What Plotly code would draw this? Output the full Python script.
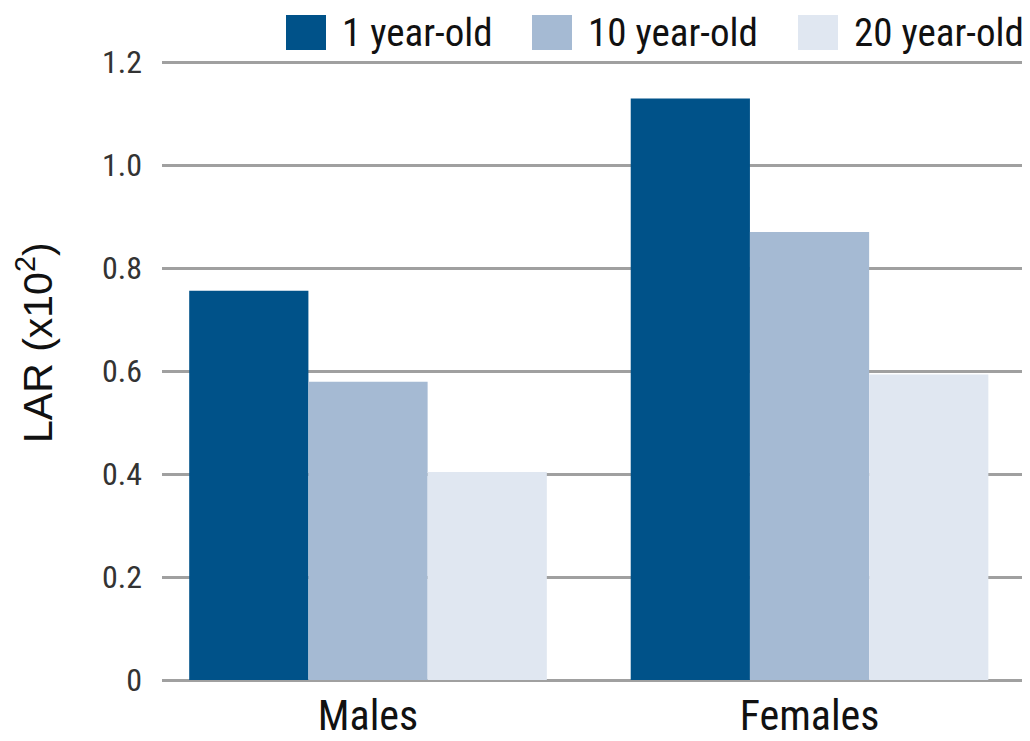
import plotly.graph_objects as go

categories = ["Males", "Females"]
series_names = ["1 year-old", "10 year-old", "20 year-old"]
values_1yr = [0.756, 1.129]
values_10yr = [0.579, 0.870]
values_20yr = [0.404, 0.593]
series_values = [values_1yr, values_10yr, values_20yr]
colors = ["#005289", "#a5bad3", "#e0e7f1"]
y_tickvals = [0, 0.2, 0.4, 0.6, 0.8, 1.0, 1.2]
y_ticktext = ["0", "0.2", "0.4", "0.6", "0.8", "1.0", "1.2"]

FONT = "Roboto Condensed, DejaVu Sans Condensed, sans-serif"

fig = go.Figure()
for name, vals, col in zip(series_names, series_values, colors):
    fig.add_trace(go.Bar(x=categories, y=vals, name=name, marker=dict(color=col, line=dict(width=0)),
                         showlegend=False))

# browser body margin offset (8px) compensation
OFF = 8
W, H = 1030 - OFF, 741 - OFF
L, R, T, B = 162 - OFF, 5, 62 - OFF - 1, 61
pw, ph = W - L - R, H - T - B

def px_to_paper_x(px):
    return (px - OFF - L) / pw

def px_to_paper_y(py):
    return (H - B - (py - OFF)) / ph

legend_x = [286, 532, 798]
shapes = []
annotations = []
for lx, name, col in zip(legend_x, series_names, colors):
    shapes.append(dict(type="rect", xref="paper", yref="paper",
                       x0=px_to_paper_x(lx), x1=px_to_paper_x(lx + 40),
                       y0=px_to_paper_y(50), y1=px_to_paper_y(15),
                       fillcolor=col, line=dict(width=0)))
    annotations.append(dict(text=name, xref="paper", yref="paper",
                            x=px_to_paper_x(lx + 54), y=px_to_paper_y(33),
                            xanchor="left", yanchor="middle", showarrow=False,
                            font=dict(family=FONT, size=39, color="#111")))

annotations.append(dict(text="LAR (x10<sup>2</sup>)", xref="paper", yref="paper",
                        x=px_to_paper_x(35), y=px_to_paper_y(343), textangle=-90,
                        xanchor="center", yanchor="middle", showarrow=False,
                        font=dict(family="Liberation Sans, Arial, sans-serif", size=41, color="#111")))

fig.update_layout(
    width=W, height=H,
    margin=dict(l=L, r=R, t=T, b=B, pad=0, autoexpand=False),
    paper_bgcolor="white", plot_bgcolor="white",
    barmode="group", bargap=0.19, bargroupgap=0,
    shapes=shapes, annotations=annotations,
    xaxis=dict(range=[-0.4666, 1.488], showgrid=False, zeroline=False, showline=False,
               ticks="", ticklabelstandoff=7, automargin=False,
               tickfont=dict(family=FONT, size=42, color="#111")),
    yaxis=dict(range=[0, 1.202], tickvals=y_tickvals, ticktext=y_ticktext,
               showgrid=True, gridcolor="#a0a0a0", gridwidth=2.5,
               zeroline=True, zerolinecolor="#a0a0a0", zerolinewidth=2.5,
               showline=False, ticks="", ticklabelstandoff=19, automargin=False,
               tickfont=dict(family=FONT, size=32, color="#333")),
)

fig.write_html("out.html")
